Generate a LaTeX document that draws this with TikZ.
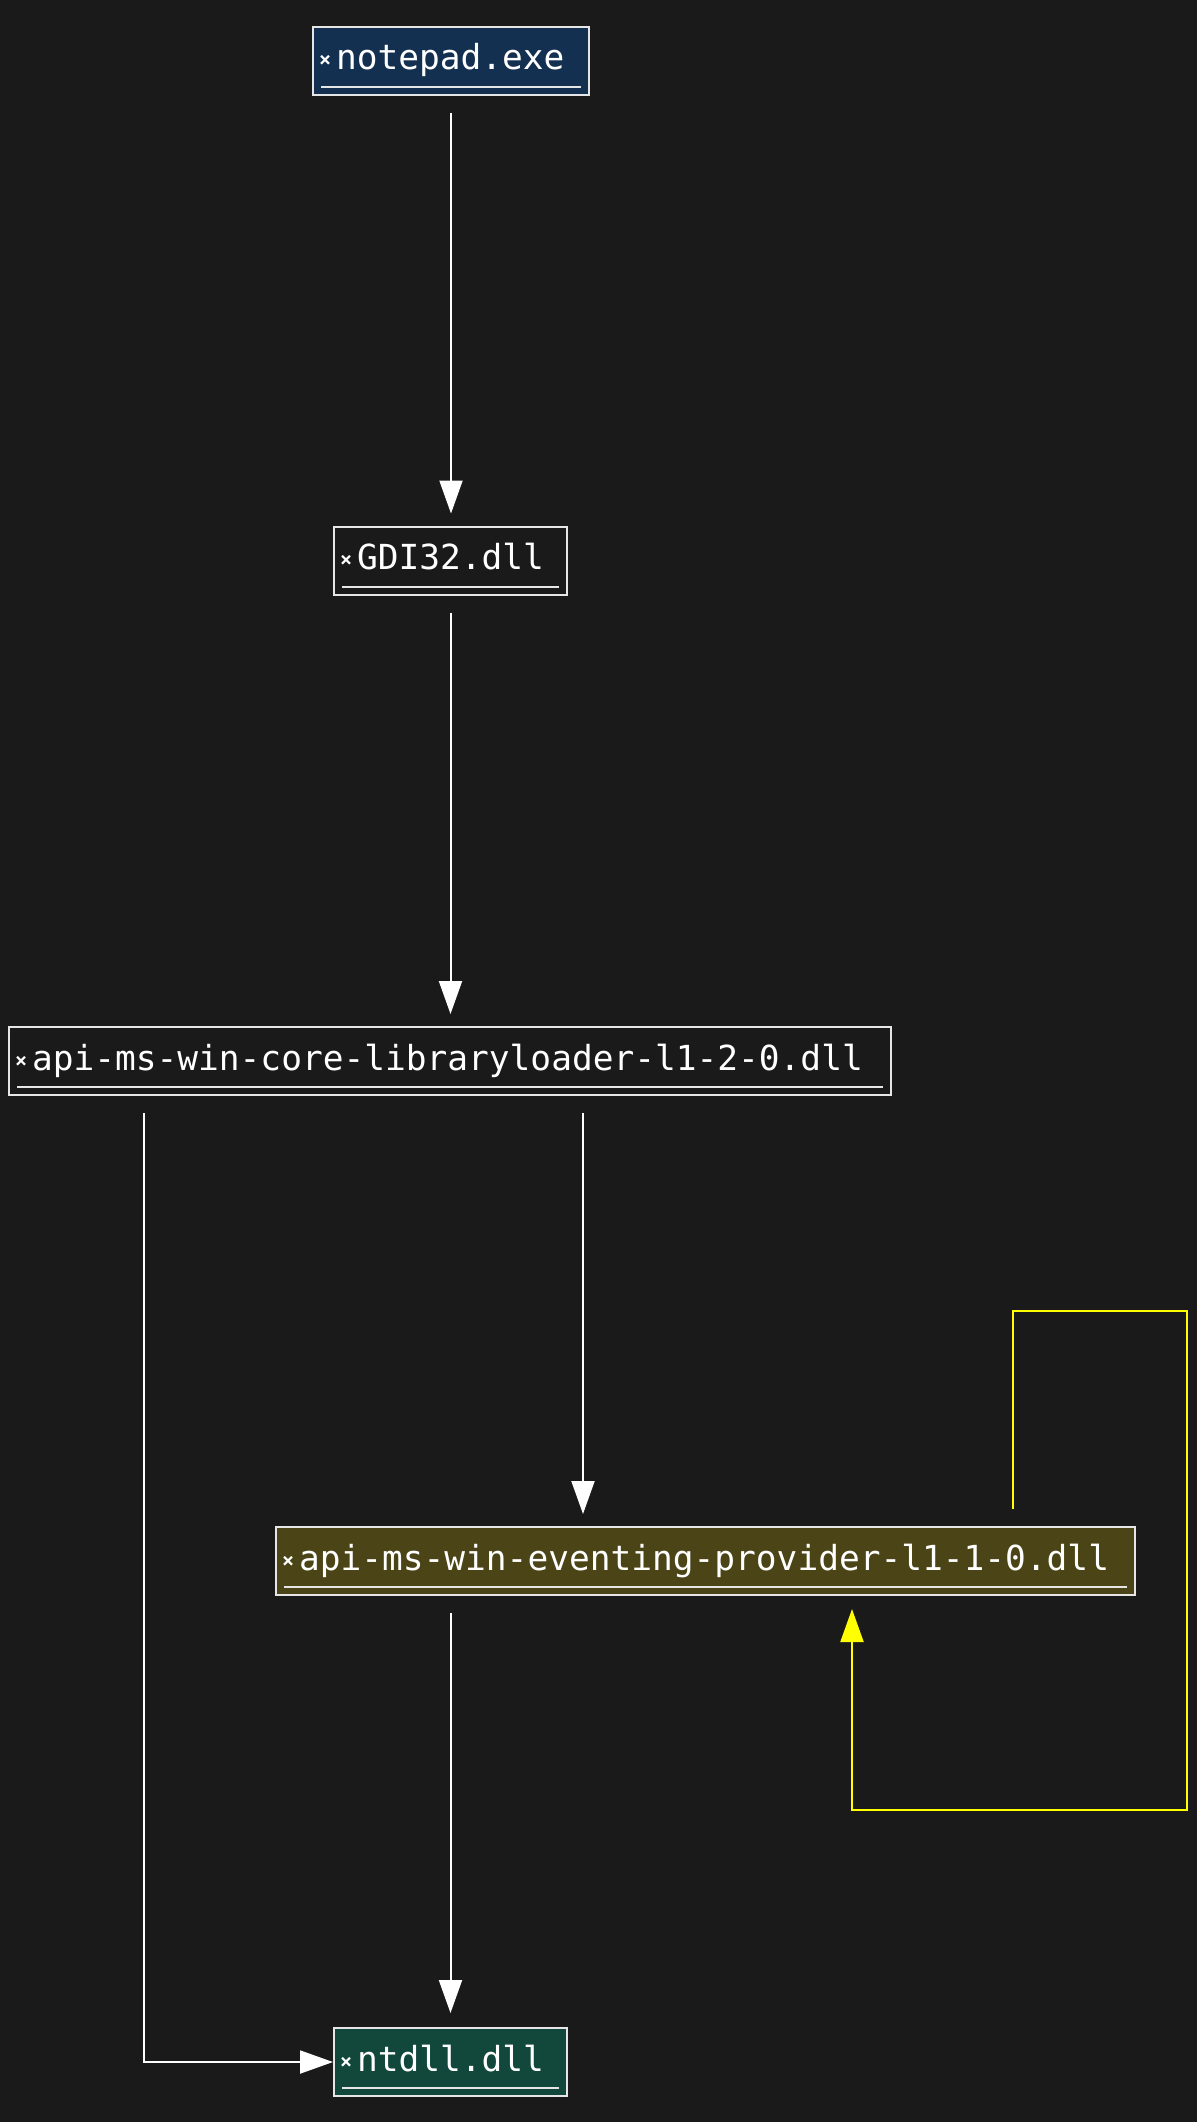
\documentclass[tikz,border=0pt]{standalone}
\usepackage{fontspec}
\setmonofont{DejaVu Sans Mono}
\usetikzlibrary{arrows.meta}
\definecolor{bg}{HTML}{1A1A1A}
\definecolor{boxline}{HTML}{E6E6E6}
\definecolor{npfill}{HTML}{133050}
\definecolor{evfill}{HTML}{4A4416}
\definecolor{ntfill}{HTML}{12473B}
\definecolor{loopc}{HTML}{FFFF00}
\newcommand{\xm}{\raisebox{3pt}{\bfseries\fontsize{20}{20}\selectfont ×}\hspace{5pt}}
\newcommand{\modtext}[2]{\makebox[\dimexpr #1pt-12pt\relax][l]{\xm #2}}
\begin{document}
\begin{tikzpicture}[x=1pt,y=-1pt,
  mod/.style={draw=boxline, line width=2pt, minimum height=68pt, inner ysep=0pt, inner xsep=6pt,
    text=white, text height=26pt, text depth=8pt,
    font=\ttfamily\fontsize{34.5}{40}\selectfont},
  uline/.style={draw=boxline, line width=2pt},
  dep/.style={draw=white, line width=2pt, -{Triangle[length=33pt,width=23pt]}},
  selfdep/.style={draw=loopc, line width=2pt, -{Triangle[length=33pt,width=23pt]}}]
\fill[bg] (0,0) rectangle (1197,2122);
\useasboundingbox (0,0) rectangle (1197,2122);

\node[mod, fill=npfill] (np) at (451,61) {\modtext{276}{notepad.exe}};
\node[mod, fill=bg] (gdi) at (450.5,560.5) {\modtext{233}{GDI32.dll}};
\node[mod, fill=bg] (core) at (450,1061) {\modtext{882}{api-ms-win-core-libraryloader-l1-2-0.dll}};
\node[mod, fill=evfill] (ev) at (705.5,1561) {\modtext{859}{api-ms-win-eventing-provider-l1-1-0.dll}};
\node[mod, fill=ntfill] (nt) at (450.5,2062) {\modtext{233}{ntdll.dll}};

\foreach \n in {np,gdi,core,ev,nt}{
  \draw[uline] ([xshift=9pt,yshift=9pt]\n.south west) -- ([xshift=-9pt,yshift=9pt]\n.south east);
}

\draw[dep, shorten <=17pt, shorten >=12pt] (np.south) -- (np.south |- gdi.north);
\draw[dep, shorten <=17pt, shorten >=12pt] (gdi.south) -- (gdi.south |- core.north);
\draw[dep, shorten <=17pt, shorten >=12pt] ([xshift=133pt]core.south) -- ([xshift=133pt]core.south |- ev.north);
\draw[dep, shorten <=17pt] ([xshift=-306.5pt]core.south) |- (nt.west);
\draw[dep, shorten <=17pt, shorten >=14pt] (nt.north |- ev.south) -- (nt.north);

\coordinate (la) at (1013,1311);
\coordinate (lb) at (1187,1311);
\coordinate (lc) at (1187,1810);
\coordinate (ld) at (852,1810);
\draw[selfdep, shorten >=13pt] ([xshift=307.5pt,yshift=17pt]ev.north) -- (la) -- (lb) -- (lc) -- (ld) -- ([xshift=146.5pt]ev.south);
\end{tikzpicture}
\end{document}
